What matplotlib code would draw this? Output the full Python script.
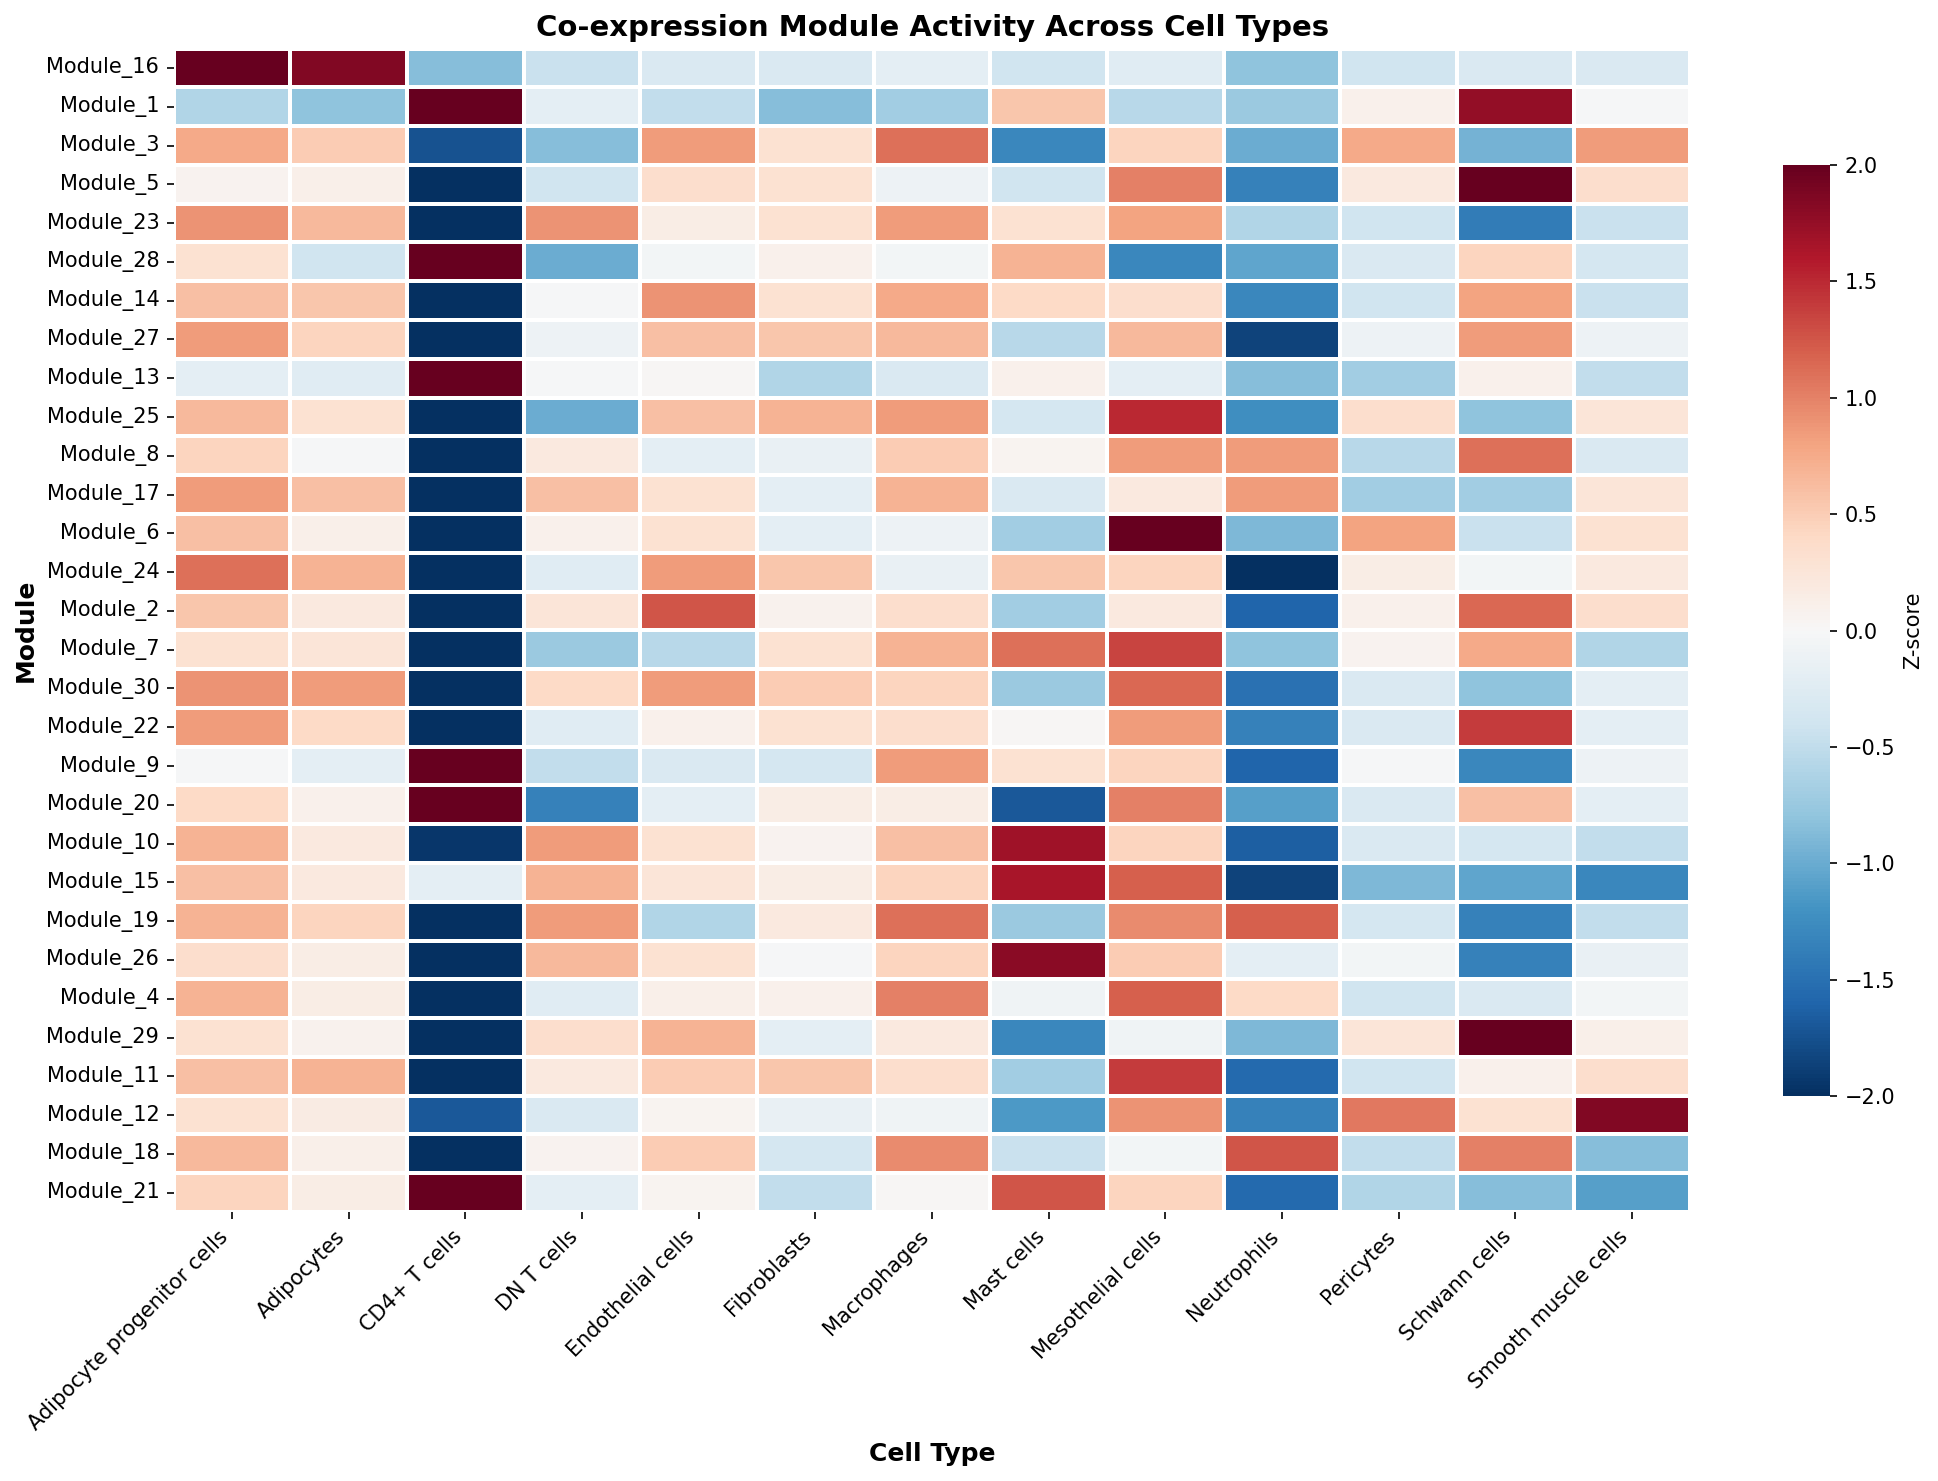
# filename: module_heatmap.py

import matplotlib
matplotlib.use('Agg')
import matplotlib.pyplot as plt
import seaborn as sns

cell_types = ['Adipocyte progenitor cells', 'Adipocytes', 'CD4+ T cells', 'DN T cells',
              'Endothelial cells', 'Fibroblasts', 'Macrophages', 'Mast cells',
              'Mesothelial cells', 'Neutrophils', 'Pericytes', 'Schwann cells',
              'Smooth muscle cells']

modules = ['Module_16', 'Module_1', 'Module_3', 'Module_5', 'Module_23', 'Module_28',
           'Module_14', 'Module_27', 'Module_13', 'Module_25', 'Module_8', 'Module_17',
           'Module_6', 'Module_24', 'Module_2', 'Module_7', 'Module_30', 'Module_22',
           'Module_9', 'Module_20', 'Module_10', 'Module_15', 'Module_19', 'Module_26',
           'Module_4', 'Module_29', 'Module_11', 'Module_12', 'Module_18', 'Module_21']

# z-scores, one row per module
zscores = [
    [2.0, 1.85, -0.85, -0.45, -0.3, -0.3, -0.2, -0.4, -0.25, -0.8, -0.4, -0.3, -0.3],
    [-0.6, -0.8, 2.0, -0.2, -0.5, -0.85, -0.7, 0.55, -0.55, -0.75, 0.1, 1.75, -0.02],
    [0.75, 0.5, -1.75, -0.85, 0.85, 0.3, 1.1, -1.3, 0.45, -1.0, 0.75, -0.95, 0.85],
    [0.07, 0.12, -2.0, -0.4, 0.35, 0.3, -0.1, -0.4, 1.0, -1.35, 0.2, 2.0, 0.35],
    [0.9, 0.65, -2.0, 0.9, 0.15, 0.3, 0.85, 0.3, 0.8, -0.6, -0.4, -1.4, -0.45],
    [0.3, -0.4, 2.0, -1.0, -0.05, 0.1, -0.05, 0.7, -1.3, -1.05, -0.3, 0.45, -0.35],
    [0.6, 0.55, -2.0, -0.03, 0.9, 0.3, 0.75, 0.4, 0.35, -1.3, -0.4, 0.8, -0.45],
    [0.85, 0.45, -2.0, -0.1, 0.6, 0.55, 0.65, -0.55, 0.65, -1.85, -0.1, 0.85, -0.1],
    [-0.2, -0.25, 2.0, -0.02, 0.03, -0.6, -0.3, 0.1, -0.2, -0.85, -0.7, 0.1, -0.5],
    [0.65, 0.3, -2.0, -1.0, 0.6, 0.7, 0.85, -0.35, 1.5, -1.25, 0.35, -0.8, 0.25],
    [0.45, -0.03, -2.0, 0.2, -0.2, -0.15, 0.5, 0.05, 0.85, 0.85, -0.55, 1.1, -0.3],
    [0.85, 0.6, -2.0, 0.6, 0.3, -0.2, 0.7, -0.3, 0.2, 0.85, -0.7, -0.7, 0.25],
    [0.6, 0.12, -2.0, 0.1, 0.3, -0.2, -0.1, -0.7, 2.0, -0.9, 0.8, -0.45, 0.3],
    [1.1, 0.7, -2.0, -0.25, 0.85, 0.55, -0.15, 0.55, 0.45, -2.0, 0.15, -0.05, 0.2],
    [0.55, 0.2, -2.0, 0.25, 1.25, 0.08, 0.35, -0.7, 0.2, -1.6, 0.1, 1.15, 0.35],
    [0.3, 0.25, -2.0, -0.75, -0.55, 0.3, 0.7, 1.1, 1.35, -0.8, 0.07, 0.75, -0.6],
    [0.9, 0.85, -2.0, 0.4, 0.85, 0.5, 0.45, -0.75, 1.15, -1.5, -0.3, -0.8, -0.2],
    [0.85, 0.4, -2.0, -0.25, 0.1, 0.3, 0.35, 0.03, 0.85, -1.35, -0.3, 1.4, -0.2],
    [-0.03, -0.2, 2.0, -0.5, -0.3, -0.35, 0.85, 0.3, 0.45, -1.6, -0.03, -1.3, -0.1],
    [0.4, 0.1, 2.0, -1.35, -0.2, 0.15, 0.15, -1.7, 1.0, -1.1, -0.3, 0.6, -0.2],
    [0.7, 0.2, -1.95, 0.85, 0.3, 0.07, 0.6, 1.7, 0.45, -1.65, -0.3, -0.35, -0.5],
    [0.6, 0.2, -0.2, 0.7, 0.25, 0.15, 0.45, 1.65, 1.2, -1.85, -0.9, -1.05, -1.3],
    [0.7, 0.45, -2.0, 0.85, -0.6, 0.2, 1.1, -0.75, 0.95, 1.2, -0.35, -1.35, -0.5],
    [0.35, 0.15, -2.0, 0.65, 0.3, -0.03, 0.45, 1.8, 0.5, -0.2, -0.05, -1.35, -0.15],
    [0.7, 0.15, -2.0, -0.25, 0.12, 0.1, 1.0, -0.08, 1.2, 0.4, -0.4, -0.3, -0.05],
    [0.3, 0.08, -2.0, 0.35, 0.7, -0.2, 0.2, -1.3, -0.08, -0.9, 0.25, 2.0, 0.12],
    [0.6, 0.7, -2.0, 0.2, 0.5, 0.55, 0.35, -0.7, 1.4, -1.55, -0.4, 0.1, 0.35],
    [0.3, 0.17, -1.7, -0.3, 0.05, -0.15, -0.08, -1.15, 0.9, -1.35, 1.05, 0.3, 1.85],
    [0.65, 0.12, -2.0, 0.07, 0.5, -0.35, 0.95, -0.45, -0.05, 1.25, -0.5, 1.0, -0.85],
    [0.45, 0.15, 2.0, -0.2, 0.05, -0.5, 0.03, 1.25, 0.45, -1.55, -0.6, -0.85, -1.1],
]

fig = plt.figure(figsize=(1938 / 150, 1481 / 150), dpi=150)
ax = fig.add_axes([0.0897, 0.1816, 0.7825, 0.7856])
cax = fig.add_axes([0.92, 0.26, 0.02425, 0.6285])

sns.heatmap(zscores, ax=ax, cbar_ax=cax, cmap='RdBu_r', center=0, vmin=-2, vmax=2,
            linewidths=1, linecolor='white', xticklabels=cell_types, yticklabels=modules,
            cbar_kws={'label': 'Z-score'})

ax.set_title('Co-expression Module Activity Across Cell Types', fontsize=14, fontweight='bold')
ax.set_xlabel('Cell Type', fontsize=12, fontweight='bold')
ax.set_ylabel('Module', fontsize=12, fontweight='bold')
plt.setp(ax.get_xticklabels(), rotation=45, ha='right')
plt.setp(ax.get_yticklabels(), rotation=0)

fig.savefig('out.png', dpi=150)
